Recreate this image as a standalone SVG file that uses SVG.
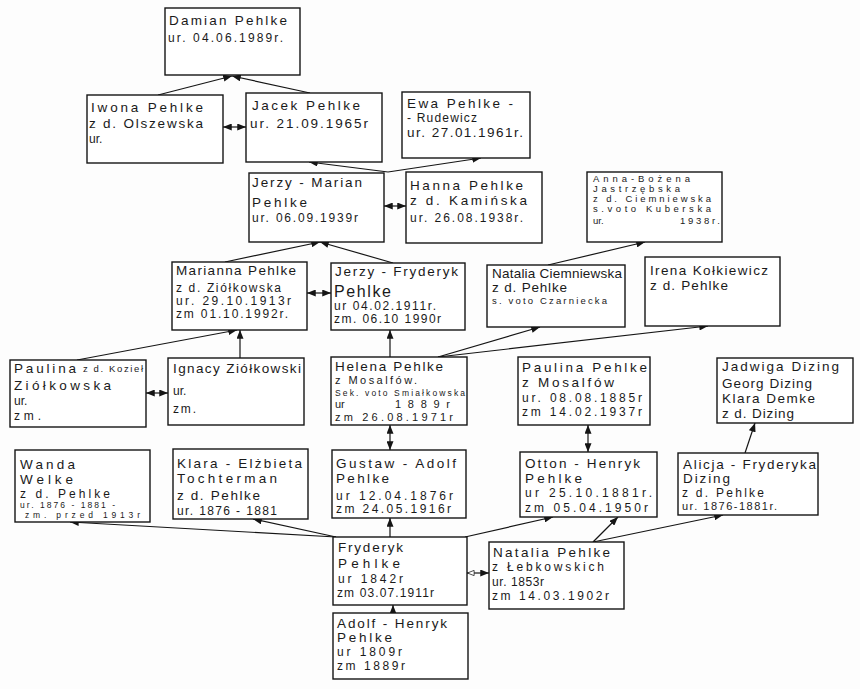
<svg xmlns="http://www.w3.org/2000/svg" width="860" height="689" viewBox="0 0 860 689">
<style>
.box{fill:#fff;stroke:#151515;stroke-width:1.4}
.t{font-family:"Liberation Sans",Arial,sans-serif;font-size:13.5px;fill:#1a1a1a}
.m{font-size:12px}
.n{font-size:11px}
.s{font-size:9.5px}
.x{font-size:8.5px}
.b{font-size:16px}
.c{stroke:#151515;stroke-width:1.2;fill:none}
.a{marker-end:url(#ah)}
.d{marker-start:url(#ah);marker-end:url(#ah)}
</style>
<defs>
<marker id="ah" viewBox="0 0 10 8" refX="10" refY="4" markerWidth="9" markerHeight="7" orient="auto-start-reverse" markerUnits="userSpaceOnUse"><path d="M0,0 L10,4 L0,8 z" fill="#151515"/></marker>
<marker id="oh" viewBox="0 0 10 8" refX="10" refY="4" markerWidth="8" markerHeight="6" orient="auto-start-reverse" markerUnits="userSpaceOnUse"><path d="M0.5,0.5 L9.5,4 L0.5,7.5 z" fill="#fff" stroke="#151515" stroke-width="1"/></marker>
</defs>
<rect width="860" height="689" fill="#fdfdfd"/>

<g id="connectors">
<path class="c a" d="M158,95 L232,76"/>
<path class="c a" d="M310,93 L232,76"/>
<path class="c d" d="M223,127 L246,127"/>
<path class="c a" d="M388,172 L309,162"/>
<path class="c a" d="M388,172 L481,158"/>
<path class="c d" d="M384,206 L406,206"/>
<path class="c a" d="M225,262 L320,242"/>
<path class="c a" d="M393,263 L320,242"/>
<path class="c a" d="M548,265 L645,242"/>
<path class="c d" d="M307,293 L331,293"/>
<path class="c a" d="M390,357 L390,330"/>
<path class="c a" d="M438,357 L540,327"/>
<path class="c a" d="M438,357 L708,326"/>
<path class="c a" d="M77,360 L237,330"/>
<path class="c a" d="M240,358 L240,330"/>
<path class="c d" d="M146,393 L168,393"/>
<path class="c d" d="M390,425 L390,450"/>
<path class="c d" d="M588,425 L588,452"/>
<path class="c a" d="M745,453 L755,423"/>
<path class="c a" d="M336,537 L70,522"/>
<path class="c a" d="M336,537 L253,519"/>
<path class="c a" d="M390,537 L390,518"/>
<path class="c a" d="M465,537 L553,517"/>
<path class="c a" d="M593,542 L618,517"/>
<path class="c a" d="M593,542 L723,515"/>
<path class="c" d="M467,573 L489,573" marker-start="url(#oh)" marker-end="url(#ah)"/>
<path class="c a" d="M393,613 L393,605"/>
</g>

<g id="damian"><rect class="box" x="165" y="8" width="135" height="67"/>
<text class="t" x="169" y="25" textLength="118">Damian Pehlke</text>
<text class="t m" x="168" y="42" textLength="115">ur. 04.06.1989r.</text></g>

<g id="iwona"><rect class="box" x="87" y="95" width="136" height="68"/>
<text class="t" x="91" y="112" textLength="112">Iwona Pehlke</text>
<text class="t" x="89" y="128" textLength="114">z d. Olszewska</text>
<text class="t m" x="89" y="143">ur.</text></g>

<g id="jacek"><rect class="box" x="246" y="93" width="136" height="69"/>
<text class="t" x="252" y="110" textLength="108">Jacek Pehlke</text>
<text class="t" x="250" y="128" textLength="118">ur. 21.09.1965r</text></g>

<g id="ewa"><rect class="box" x="402" y="92" width="128" height="66"/>
<text class="t" x="407" y="108" textLength="106">Ewa Pehlke -</text>
<text class="t m" x="407" y="122" textLength="70">- Rudewicz</text>
<text class="t" x="407" y="137" textLength="116">ur. 27.01.1961r.</text></g>

<g id="jerzy-marian"><rect class="box" x="249" y="173" width="135" height="69"/>
<text class="t" x="252" y="187" textLength="110">Jerzy - Marian</text>
<text class="t" x="252" y="207" textLength="55">Pehlke</text>
<text class="t m" x="252" y="222" textLength="106">ur. 06.09.1939r</text></g>

<g id="hanna"><rect class="box" x="406" y="172" width="136" height="71"/>
<text class="t" x="410" y="190" textLength="113">Hanna Pehlke</text>
<text class="t" x="410" y="205" textLength="117">z d. Kamińska</text>
<text class="t m" x="410" y="222" textLength="113">ur. 26.08.1938r.</text></g>

<g id="anna"><rect class="box" x="587" y="172" width="135" height="70"/>
<text class="t s" x="593" y="182" textLength="97">Anna-Bożena</text>
<text class="t s" x="593" y="192" textLength="87">Jastrzębska</text>
<text class="t s" x="593" y="202" textLength="118">z d. Ciemniewska</text>
<text class="t s" x="593" y="212" textLength="118">s.voto Kuberska</text>
<text class="t s" x="593" y="224">ur.</text>
<text class="t s" x="680" y="224" textLength="40">1938r.</text></g>

<g id="marianna"><rect class="box" x="172" y="262" width="135" height="68"/>
<text class="t" x="176" y="275" textLength="120">Marianna Pehlke</text>
<text class="t m" x="176" y="292" textLength="105">z d. Ziółkowska</text>
<text class="t m" x="176" y="305" textLength="115">ur. 29.10.1913r</text>
<text class="t m" x="176" y="318" textLength="112">zm 01.10.1992r.</text></g>

<g id="jerzy-fryderyk"><rect class="box" x="331" y="263" width="134" height="67"/>
<text class="t" x="335" y="276" textLength="123">Jerzy - Fryderyk</text>
<text class="t b" x="334" y="297" textLength="57">Pehlke</text>
<text class="t m" x="334" y="310" textLength="102">ur 04.02.1911r.</text>
<text class="t m" x="334" y="323" textLength="107">zm. 06.10 1990r</text></g>

<g id="natalia-ciemniewska"><rect class="box" x="487" y="265" width="138" height="62"/>
<text class="t" x="492" y="278" textLength="130">Natalia Ciemniewska</text>
<text class="t" x="492" y="292" textLength="75">z d. Pehlke</text>
<text class="t s" x="492" y="304" textLength="115">s. voto Czarniecka</text></g>

<g id="irena"><rect class="box" x="645" y="257" width="135" height="69"/>
<text class="t" x="650" y="275" textLength="118">Irena Kołkiewicz</text>
<text class="t" x="650" y="290" textLength="78">z d. Pehlke</text></g>

<g id="paulina-ziolkowska"><rect class="box" x="10" y="360" width="136" height="67"/>
<text class="t" x="14" y="373" textLength="62">Paulina</text>
<text class="t s" x="83" y="372" textLength="60">z d. Kozieł</text>
<text class="t" x="14" y="390" textLength="97">Ziółkowska</text>
<text class="t m" x="14" y="405">ur.</text>
<text class="t m" x="14" y="420" textLength="27">zm.</text></g>

<g id="ignacy"><rect class="box" x="168" y="358" width="136" height="67"/>
<text class="t" x="173" y="373" textLength="128">Ignacy Ziółkowski</text>
<text class="t m" x="173" y="395">ur.</text>
<text class="t m" x="173" y="413" textLength="23">zm.</text></g>

<g id="helena"><rect class="box" x="331" y="357" width="136" height="68"/>
<text class="t" x="335" y="371" textLength="108">Helena Pehlke</text>
<text class="t n" x="335" y="384" textLength="82">z Mosalfów.</text>
<text class="t x" x="335" y="396" textLength="130">Sek. voto Smiałkowska</text>
<text class="t n" x="335" y="408">ur</text>
<text class="t n" x="395" y="408" textLength="55">1889r</text>
<text class="t n" x="335" y="421" textLength="118">zm 26.08.1971r</text></g>

<g id="paulina-pehlke"><rect class="box" x="518" y="357" width="132" height="68"/>
<text class="t" x="522" y="372" textLength="125">Paulina Pehlke</text>
<text class="t" x="522" y="387" textLength="92">z Mosalfów</text>
<text class="t m" x="522" y="402" textLength="120">ur. 08.08.1885r</text>
<text class="t m" x="522" y="416" textLength="120">zm 14.02.1937r</text></g>

<g id="jadwiga"><rect class="box" x="717" y="358" width="136" height="65"/>
<text class="t" x="722" y="371" textLength="117">Jadwiga Dizing</text>
<text class="t" x="722" y="388" textLength="90">Georg Dizing</text>
<text class="t" x="722" y="403" textLength="93">Klara Demke</text>
<text class="t" x="722" y="418" textLength="72">z d. Dizing</text></g>

<g id="wanda"><rect class="box" x="15" y="450" width="135" height="72"/>
<text class="t" x="20" y="469" textLength="55">Wanda</text>
<text class="t" x="20" y="484" textLength="53">Welke</text>
<text class="t m" x="20" y="498" textLength="90">z d. Pehlke</text>
<text class="t x" x="20" y="508" textLength="95">ur. 1876 - 1881 -</text>
<text class="t x" x="25" y="518" textLength="115">zm. przed 1913r</text></g>

<g id="klara"><rect class="box" x="173" y="449" width="135" height="70"/>
<text class="t" x="177" y="468" textLength="125">Klara - Elżbieta</text>
<text class="t" x="177" y="483" textLength="100">Tochterman</text>
<text class="t" x="177" y="500" textLength="83">z d. Pehlke</text>
<text class="t m" x="177" y="515" textLength="100">ur. 1876 - 1881</text></g>

<g id="gustaw"><rect class="box" x="332" y="450" width="134" height="68"/>
<text class="t" x="336" y="468" textLength="120">Gustaw - Adolf</text>
<text class="t" x="336" y="483" textLength="53">Pehlke</text>
<text class="t m" x="336" y="500" textLength="117">ur 12.04.1876r</text>
<text class="t m" x="336" y="513" textLength="115">zm 24.05.1916r</text></g>

<g id="otton"><rect class="box" x="520" y="452" width="137" height="65"/>
<text class="t" x="525" y="468" textLength="115">Otton - Henryk</text>
<text class="t" x="525" y="483" textLength="57">Pehlke</text>
<text class="t m" x="525" y="497" textLength="127">ur 25.10.1881r.</text>
<text class="t m" x="525" y="512" textLength="123">zm 05.04.1950r</text></g>

<g id="alicja"><rect class="box" x="678" y="453" width="140" height="62"/>
<text class="t" x="683" y="469" textLength="133">Alicja - Fryderyka</text>
<text class="t" x="683" y="483" textLength="47">Dizing</text>
<text class="t m" x="682" y="497" textLength="82">z d. Pehlke</text>
<text class="t n" x="682" y="510" textLength="95">ur. 1876-1881r.</text></g>

<g id="fryderyk"><rect class="box" x="333" y="537" width="134" height="68"/>
<text class="t" x="338" y="552" textLength="65">Fryderyk</text>
<text class="t" x="338" y="568" textLength="62">Pehlke</text>
<text class="t m" x="338" y="583" textLength="65">ur 1842r</text>
<text class="t m" x="337" y="597" textLength="97">zm 03.07.1911r</text></g>

<g id="natalia-pehlke"><rect class="box" x="489" y="542" width="135" height="67"/>
<text class="t" x="493" y="557" textLength="117">Natalia Pehlke</text>
<text class="t m" x="492" y="571" textLength="112">z Łebkowskich</text>
<text class="t m" x="492" y="586" textLength="52">ur. 1853r</text>
<text class="t m" x="492" y="600" textLength="117">zm 14.03.1902r</text></g>

<g id="adolf-henryk"><rect class="box" x="333" y="613" width="135" height="66"/>
<text class="t" x="337" y="628" textLength="110">Adolf - Henryk</text>
<text class="t" x="337" y="642" textLength="55">Pehlke</text>
<text class="t m" x="337" y="656" textLength="65">ur 1809r</text>
<text class="t m" x="337" y="670" textLength="68">zm 1889r</text></g>
</svg>
